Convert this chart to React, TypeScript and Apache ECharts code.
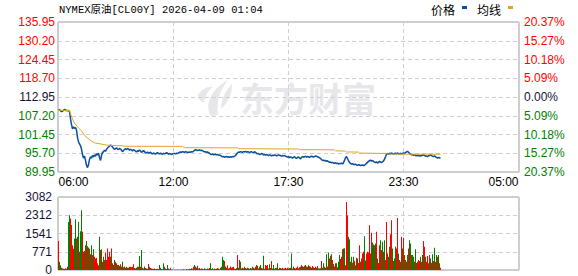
import React, { useEffect, useRef } from 'react';
import * as echarts from 'echarts';

const chartTitle = 'NYMEX原油[CL00Y] 2026-04-09 01:04';
const legendNames = ['价格', '均线'];
const watermarkText = '东方财富';

const prevClose = 112.95;
const priceStep = 5.75;
const priceTickLabels = ['89.95', '95.70', '101.45', '107.20', '112.95', '118.70', '124.45', '130.20', '135.95'];
const pctTickLabels = ['20.37%', '15.27%', '10.18%', '5.09%', '0.00%', '5.09%', '10.18%', '15.27%', '20.37%'];

const volumeMax = 3082;
const volumeStep = 770.5;

const slotCount = 461; // ~3-minute slots from 06:00 to 05:00
const xTickSlots = [0, 115, 230, 345, 460];
const xTickLabels = ['06:00', '12:00', '17:30', '23:30', '05:00'];

const price = [
  108.9, 109.1, 108.7, 108.5, 108.6, 108.9, 109.2, 108.8, 108.9, 108.7, 108.8,
  108.5, 106.3, 104.5, 103.2, 103.8, 103.3, 103.6, 102.8, 100.5, 99.2,
  98.6, 98.0, 97.0, 95.3, 94.2, 94.8, 93.5, 92.0, 91.3, 92.2,
  93.8, 94.6, 94.2, 95.0, 94.6, 95.2, 94.8, 95.5, 95.2, 95.7,
  94.4, 93.5, 95.0, 95.9, 96.2, 96.6, 96.3, 96.9, 97.3, 97.6, 97.9, 98.2, 98.0,
  97.6, 97.2, 96.9, 97.1, 97.4, 97.0, 96.8, 97.2, 97.0, 96.6,
  96.2, 96.5, 96.9, 97.1, 96.8, 97.2, 97.0, 96.6, 96.9, 96.7,
  96.4, 96.8, 96.6, 96.3, 96.1, 96.5, 96.3, 96.7, 96.4, 96.0,
  96.2, 96.5, 96.2, 95.9, 95.8, 96.1, 95.7, 95.9, 96.0, 95.6,
  95.5, 95.8, 95.6, 95.4, 95.7, 95.9, 95.6, 95.5, 95.8, 95.5,
  95.4, 95.7, 95.5, 95.6, 95.9, 95.7, 95.4, 95.6, 95.5, 95.3, 95.5, 95.6,
  95.6, 95.5, 95.7, 95.6, 95.8, 96.0, 96.1, 96.0, 96.2, 96.1,
  96.0, 96.2, 96.1, 95.9, 96.0, 96.1, 96.0, 96.2, 96.1, 96.3,
  96.6, 96.8, 96.7, 96.5, 96.6, 96.7, 96.5, 96.6, 96.5, 96.3,
  96.1, 96.2, 96.0, 96.1, 95.9, 95.7, 95.4, 95.3, 95.5, 95.2,
  95.3, 95.4, 95.2, 95.3, 95.1, 95.2, 95.0, 94.8, 94.6, 94.7,
  94.5, 94.6, 94.7, 94.5, 94.6, 94.4, 94.6, 94.5, 94.7, 94.6,
  94.8, 95.0, 95.4, 95.8, 96.1, 96.0, 96.2, 96.1, 96.0, 96.2,
  96.1, 96.3, 96.0, 96.2, 96.1, 95.9, 96.1, 96.2, 96.0, 95.8,
  96.2, 96.0, 95.7, 95.5, 95.6, 95.3, 95.4, 95.6, 95.5, 95.2,
  95.3, 95.1, 95.3, 95.2, 95.0, 95.2, 95.1, 94.9, 95.1, 95.0,
  95.2, 95.1, 94.9, 95.0, 95.2, 95.1, 95.0, 94.8, 95.0, 94.9,
  95.0, 94.8, 94.7, 94.5, 94.7, 94.3, 94.6, 94.4, 94.2, 94.5,
  94.6, 94.3, 94.1, 94.4, 94.6, 94.2, 94.0, 94.4, 94.7, 94.5,
  94.6, 94.8, 94.5, 94.7, 94.6, 94.4, 94.6, 94.8, 94.7, 94.5,
  94.7, 94.9, 94.8, 94.6, 94.5, 94.3, 94.1, 93.8, 93.5, 93.6,
  93.4, 93.5, 93.2, 93.4, 93.1, 92.9, 93.0, 92.8, 92.9, 92.7,
  92.6, 92.8, 92.5, 92.7, 92.4, 92.6, 92.5, 92.7, 92.4, 92.8,
  93.5, 94.3, 94.7, 94.1, 93.4, 92.9, 92.6, 92.4, 92.5, 92.3,
  92.2, 92.4, 92.1, 92.0, 92.2, 92.1, 91.9, 92.0, 92.1, 91.9,
  92.0, 92.3, 92.6, 92.9, 93.2, 93.4, 93.6, 93.3, 93.5, 93.2,
  93.0, 92.8, 93.1, 92.7, 92.9, 93.2, 93.0, 92.8, 93.1, 93.3,
  93.9, 94.6, 95.4, 95.6, 95.3, 95.7, 95.5, 95.8, 95.6, 95.4,
  95.6, 95.7, 95.5, 95.8, 95.6, 95.4, 95.7, 95.5, 95.6, 95.8,
  95.6, 95.9, 96.1, 96.3, 96.0, 95.7, 95.4, 95.2, 95.3, 95.1,
  95.2, 95.0, 94.9, 95.1, 95.0, 94.8, 95.0, 94.9, 95.1, 95.2,
  95.0, 94.8, 94.9, 94.7, 94.9, 95.0, 95.2, 95.0, 94.8, 94.7,
  94.9, 94.6, 94.4, 94.2, 94.4, 94.3, 94.1,
];

// average price line: [slot, price]
const avgPoints = [
  [0, 108.9], [11, 108.8], [12, 107.8], [14, 106.2], [16, 104.9], [20, 103.5], [23, 102.6],
  [26, 101.2], [30, 100.1], [33, 99.4], [36, 98.9], [43, 98.5], [48, 98.2], [52, 98.1],
  [64, 98.0], [65, 97.85], [124, 97.8], [125, 97.6], [127, 97.4], [179, 97.35], [180, 97.1],
  [240, 97.0], [241, 96.8], [276, 96.75], [277, 96.45], [287, 96.35], [288, 96.1],
  [300, 96.05], [301, 95.75], [328, 95.65], [329, 95.45], [382, 95.4],
];

const volume = [
  1220, 350, 200, 100, 60, 50, 40, 70, 50, 140,
  2030, 2310, 2170, 1900, 1050, 900, 1330, 2140, 1330, 1400,
  2030, 770, 1640, 2520, 1610, 770, 800, 1050, 1220, 1000,
  950, 900, 660, 1050, 630, 880, 560, 490, 520, 280,
  200, 1400, 840, 880, 350, 560, 420, 740, 420, 910,
  560, 770, 560, 910, 280, 210, 420, 350, 280, 210,
  210, 170, 240, 150, 350, 120, 150, 100, 140, 90,
  100, 140, 140, 120, 140, 240, 80, 60, 100, 140,
  140, 590, 140, 840, 100, 60, 150, 80, 60, 50,
  250, 140, 80, 60, 50, 40, 60, 30, 40, 50,
  40, 210, 100, 40, 30, 280, 140, 60, 40, 210,
  60, 30, 100, 20, 20, 15, 10, 15, 10, 20,
  15, 10, 20, 15, 25, 30, 20, 15, 40, 20,
  30, 50, 40, 70, 50, 140, 210, 150, 100, 180,
  60, 80, 40, 60, 50, 30, 70, 40, 30, 60,
  50, 80, 280, 40, 70, 30, 60, 40, 50, 80,
  60, 30, 100, 140, 560, 420, 380, 150, 100, 200,
  60, 80, 150, 100, 120, 140, 60, 40, 80, 630,
  100, 420, 350, 60, 100, 70, 140, 80, 60, 100,
  70, 50, 80, 60, 140, 100, 60, 140, 210, 180,
  60, 140, 210, 80, 60, 600, 50, 210, 180, 210,
  60, 240, 80, 380, 60, 210, 50, 80, 100, 280,
  40, 100, 80, 60, 100, 50, 70, 90, 50, 100,
  60, 80, 100, 700, 60, 140, 80, 60, 100, 150,
  70, 120, 140, 210, 160, 140, 180, 210, 150, 140,
  200, 160, 140, 100, 170, 120, 80, 140, 100, 170,
  70, 60, 70, 380, 90, 280, 140, 100, 660, 150,
  740, 490, 600, 660, 420, 250, 150, 280, 280, 120,
  350, 630, 460, 560, 880, 910, 920, 200, 2870, 2300,
  1400, 1300, 350, 560, 310, 560, 390, 200, 520, 490,
  300, 1050, 350, 490, 700, 770, 1430, 400, 700, 770,
  740, 1890, 700, 1570, 1160, 1080, 1050, 1120, 1610, 490,
  300, 1050, 1260, 840, 1190, 770, 1260, 420, 2030, 700,
  560, 980, 1510, 2100, 910, 380, 490, 980, 910, 2200,
  700, 420, 350, 1400, 910, 1360, 630, 420, 350, 630,
  910, 1260, 1120, 630, 630, 560, 350, 880, 300, 350,
  420, 380, 560, 350, 630, 1220, 980, 560, 350, 590,
  280, 630, 490, 310, 660, 380, 940, 350, 630, 560,
  630, 280, 100,
];

// r = up (red), g = down (green)
const volumeSide = [
  'rgggrrgrgr', 'ggrrrrggrg', 'grggrrrggr', 'grrgrgrrrr', 'rgrgrggrrr',
  'rrgrrggrrg', 'grrggrgrgr', 'grrrrrgrgr', 'rgrggrgrgr', 'rgrgrgrggr',
  'rggrggrgrg', 'grrgrgrrgr', 'grgrgrgrgr', 'grrgrrgrgr', 'grgrgrgrgr',
  'grgrgrgrgr', 'grgrggrgrr', 'grrrrrgrgr', 'grgrgrgrgr', 'grgrrgrrgr',
  'grgrggrrrr', 'ggrrggrgrg', 'rgrgrgrrgr', 'rgrgrgrgrr', 'grgrgrrgrg',
  'rgrgrgrrgr', 'gggrrgrggr', 'grgrrgrrgr', 'ggrrgrgrrr', 'ggrgrgrgrg',
  'rrrgrrggrr', 'rrgrggrgrg', 'rrgrgrgrrr', 'ggrrgrggrr', 'grgrgrrgrg',
  'rggrggrgrg', 'rrgrgrrgrr', 'grgrgrgrgr', 'grr',
].join('').split('');

const RED = '#ff0000';
const GREEN = '#008000';
const DARK = '#141438';
const BLUE = '#0b4f9f';
const GOLD = '#dca52a';
const GRID_LINE = '#cfcfcf';
const BORDER = '#9a9a9a';
const LABEL_FONT = "'Liberation Sans', Arial, sans-serif";
const CJK_FONT = "'Noto Sans CJK SC', sans-serif";

const toAxis = (p: number) => (p - prevClose) / priceStep;

echarts.graphic.registerShape(
  'emLogo',
  echarts.graphic.extendPath(
    'M13 38 C6 27 13 11 30 2 C22 12 18 24 20 37 Z M0 17 C4 11 10 8 15 9 C10 12 7 18 6 25 C2 23 0 20 0 17 Z M23 31 C23 21 28 12 34 6 C34 16 30 25 23 31 Z',
    {}
  ) as any
);

export default function App() {
  const ref = useRef<HTMLDivElement>(null);

  useEffect(() => {
    if (!ref.current) return;
    const chart = echarts.init(ref.current, undefined, { renderer: 'svg' });
    const categories = Array.from({ length: slotCount }, (_, i) => String(i));
    const splitInterval = (i: number) => i > 0 && i % 115 === 0;

    const option: any = {
      animation: false,
      backgroundColor: '#ffffff',
      grid: [
        { left: 58, top: 22, width: 461, height: 150, show: true, borderColor: BORDER, borderWidth: 1, backgroundColor: 'transparent' },
        { left: 58, top: 197, width: 461, height: 73, show: true, borderColor: BORDER, borderWidth: 1, backgroundColor: 'transparent' },
      ],
      graphic: [
        { type: 'emLogo', x: 198, y: 78, z: 0, silent: true, style: { fill: '#e7e7eb' } },
        {
          type: 'text', x: 240, y: 97, z: 0, silent: true,
          style: { text: watermarkText, fontSize: 34, fontWeight: 'bold', fontFamily: CJK_FONT, fill: '#e7e7eb', verticalAlign: 'middle' },
        },
        {
          type: 'text', x: 59, y: 10, style: {
            text: chartTitle, fontSize: 10.5, fontFamily: "'Liberation Mono', 'Noto Sans CJK SC', monospace", fill: '#000', verticalAlign: 'middle',
          },
        },
        { type: 'text', x: 431, y: 9.5, style: { text: legendNames[0], fontSize: 12, fontFamily: CJK_FONT, fill: '#000', verticalAlign: 'middle' } },
        { type: 'rect', shape: { x: 462, y: 6, width: 5, height: 3 }, style: { fill: BLUE } },
        { type: 'text', x: 477, y: 9.5, style: { text: legendNames[1], fontSize: 12, fontFamily: CJK_FONT, fill: '#000', verticalAlign: 'middle' } },
        { type: 'rect', shape: { x: 508, y: 6, width: 5, height: 3 }, style: { fill: GOLD } },
      ],
      xAxis: [
        {
          type: 'category', gridIndex: 0, data: categories, boundaryGap: true,
          axisLine: { show: false }, axisTick: { show: false },
          axisLabel: {
            interval: (i: number) => xTickSlots.includes(i),
            formatter: (_v: string, i: number) => xTickLabels[xTickSlots.indexOf(i)] ?? '',
            alignMinLabel: 'left', alignMaxLabel: 'right',
            margin: 4, color: '#000', fontSize: 12, fontFamily: LABEL_FONT,
          },
          splitLine: { show: true, interval: splitInterval, lineStyle: { color: GRID_LINE, type: [4, 3], width: 1 } },
        },
        {
          type: 'category', gridIndex: 1, data: categories, boundaryGap: true,
          axisLine: { show: false }, axisTick: { show: false }, axisLabel: { show: false },
          splitLine: { show: true, interval: splitInterval, lineStyle: { color: GRID_LINE, type: [4, 3], width: 1 } },
        },
      ],
      yAxis: [
        {
          type: 'value', gridIndex: 0, min: -4, max: 4, interval: 1, position: 'left',
          axisLine: { show: false }, axisTick: { show: false },
          splitLine: { show: true, lineStyle: { color: GRID_LINE, type: [4, 3], width: 1 } },
          axisLabel: {
            formatter: (v: number) => priceTickLabels[Math.round(v) + 4],
            color: (v: any) => (Number(v) > 0 ? RED : Number(v) < 0 ? GREEN : DARK),
            margin: 3, fontSize: 12, fontFamily: LABEL_FONT,
          },
        },
        {
          type: 'value', gridIndex: 0, min: -4, max: 4, interval: 1, position: 'right',
          axisLine: { show: false }, axisTick: { show: false }, splitLine: { show: false },
          axisLabel: {
            formatter: (v: number) => pctTickLabels[Math.round(v) + 4],
            color: (v: any) => (Number(v) > 0 ? RED : Number(v) < 0 ? GREEN : DARK),
            margin: 5, fontSize: 12, fontFamily: LABEL_FONT,
          },
        },
        {
          type: 'value', gridIndex: 1, min: 0, max: volumeMax, interval: volumeStep,
          axisLine: { show: false }, axisTick: { show: false },
          splitLine: { show: true, lineStyle: { color: GRID_LINE, type: [4, 3], width: 1 } },
          axisLabel: {
            formatter: (v: number) => String(Math.round(v)),
            color: DARK, margin: 6, fontSize: 12, fontFamily: LABEL_FONT,
          },
        },
      ],
      series: [
        {
          name: legendNames[0], type: 'line', xAxisIndex: 0, yAxisIndex: 0,
          data: price.map(toAxis), showSymbol: false, symbol: 'none', z: 3,
          lineStyle: { color: BLUE, width: 1.5 },
        },
        {
          name: legendNames[1], type: 'line', xAxisIndex: 0, yAxisIndex: 0,
          data: avgPoints.map(([i, p]) => [i, toAxis(p)]), showSymbol: false, symbol: 'none', z: 4,
          lineStyle: { color: GOLD, width: 1 },
        },
        {
          type: 'bar', xAxisIndex: 1, yAxisIndex: 2, barWidth: 1, z: 3,
          data: volume.map((v, i) => ({ value: v, itemStyle: { color: volumeSide[i] === 'r' ? RED : GREEN } })),
        },
      ],
    };
    chart.setOption(option);
    return () => chart.dispose();
  }, []);

  return <div ref={ref} style={{ position: 'fixed', left: 0, top: 0, width: 578, height: 276, background: '#fff' }} />;
}
